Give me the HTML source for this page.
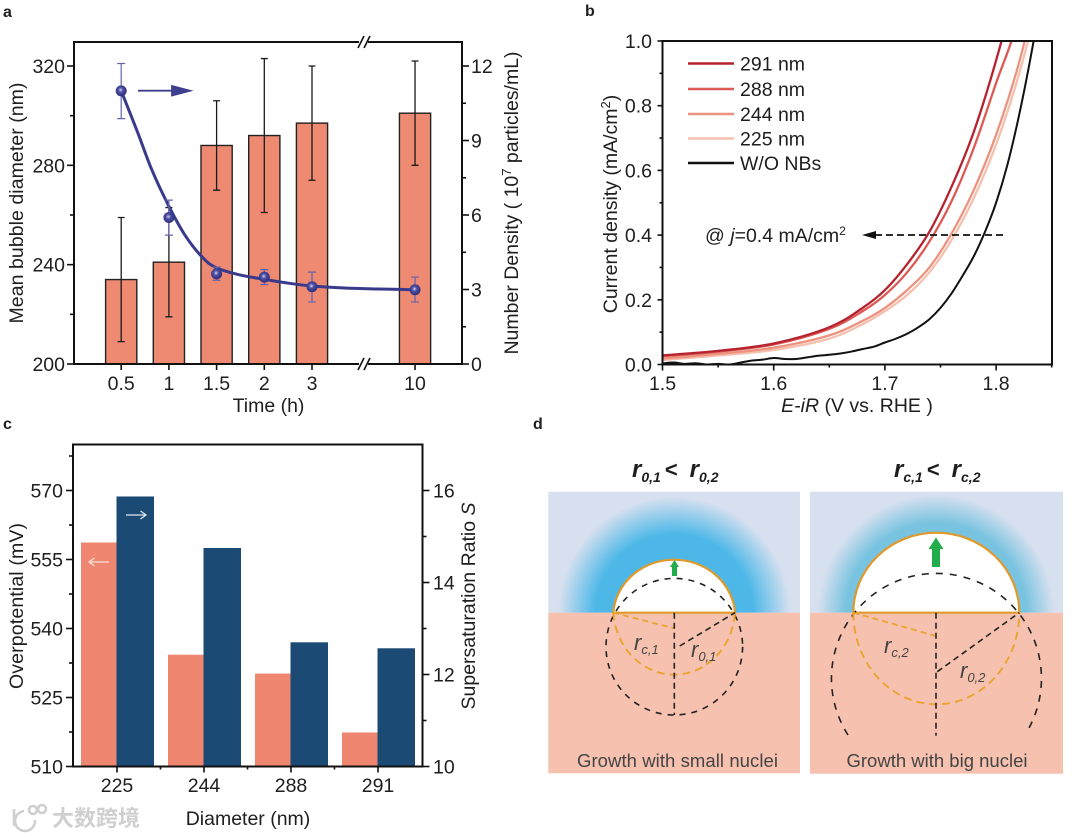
<!DOCTYPE html>
<html lang="en">
<head>
<meta charset="utf-8">
<title>Nanobubble figure</title>
<style>
html,body{margin:0;padding:0;background:#fff;width:1080px;height:837px;overflow:hidden}
svg{display:block;filter:blur(0.35px);font-family:"Liberation Sans","Noto Sans CJK SC",sans-serif}
text{fill:#1e1e1e}
</style>
</head>
<body>
<svg id="fig" xmlns="http://www.w3.org/2000/svg" width="1080" height="837" viewBox="0 0 1080 837">
<defs>
<radialGradient id="glow1" gradientUnits="userSpaceOnUse" cx="674.3" cy="612.7" r="116">
<stop offset="0" stop-color="#4db8e8"/><stop offset="0.68" stop-color="#4db8e8"/><stop offset="1" stop-color="#d7e0ef"/>
</radialGradient>
<radialGradient id="glow2" gradientUnits="userSpaceOnUse" cx="936" cy="612.7" r="118">
<stop offset="0" stop-color="#78c3e0"/><stop offset="0.76" stop-color="#78c3e0"/><stop offset="1" stop-color="#d7e0ef"/>
</radialGradient>
<radialGradient id="ball" cx="0.45" cy="0.42" r="0.6">
<stop offset="0" stop-color="#d5d5f0"/><stop offset="0.35" stop-color="#5050a4"/><stop offset="1" stop-color="#2a2a78"/>
</radialGradient>
<clipPath id="clipB"><rect x="662.5" y="41" width="389.5" height="323.5"/></clipPath>
</defs>

<g font-weight="bold" font-size="16">
<text x="3" y="17">a</text>
<text x="585" y="16">b</text>
<text x="3" y="429">c</text>
<text x="533" y="429">d</text>
</g>

<g id="panelA"></g>
<g id="panelB"></g>
<g id="panelC"></g>

<g id="panelD">
<g>
<rect x="548.3" y="491.7" width="251.7" height="121" fill="#d7e0ef"/>
<path d="M558.3 612.7A116 116 0 0 1 790.3 612.7Z" fill="url(#glow1)"/>
<rect x="548.3" y="612.7" width="251.7" height="160.6" fill="#f6c1ae"/>
<path d="M613.3 612.7A61 57 0 0 1 735 612.7Z" fill="#fff" stroke="#e09a2c" stroke-width="2.2"/>
<circle cx="674.3" cy="646.7" r="68.3" fill="none" stroke="#222" stroke-width="1.6" stroke-dasharray="6 6"/>
<path d="M613.3 612.7A61 66.6 0 0 0 735 612.7" fill="none" stroke="#eba42f" stroke-width="1.9" stroke-dasharray="8 5"/>
<path d="M613.3 612.7L674.3 628.3" fill="none" stroke="#eba42f" stroke-width="1.8" stroke-dasharray="6 4"/>
<path d="M674.3 612.7V715" fill="none" stroke="#222" stroke-width="1.6" stroke-dasharray="6 4"/>
<path d="M679.7 646L735 612.7" fill="none" stroke="#222" stroke-width="1.6" stroke-dasharray="6 4"/>
<path d="M672 576V567H670L674.5 560L679 567H677V576Z" fill="#22ac4b"/>
<text x="634" y="650" font-size="22" font-style="italic" style="fill:#444">r<tspan font-size="13" dy="4">c,1</tspan></text>
<text x="691" y="657" font-size="22" font-style="italic" style="fill:#444">r<tspan font-size="13" dy="4">0,1</tspan></text>
<text x="677.5" y="767" font-size="18.5" text-anchor="middle" textLength="201" style="fill:#444">Growth with small nuclei</text>
<text x="632" y="477" font-size="24" font-weight="bold" font-style="italic">r<tspan font-size="14" dy="5">0,1</tspan><tspan dy="-5" font-style="normal" dx="4" font-size="22">&lt;</tspan><tspan dx="12">r</tspan><tspan font-size="14" dy="5">0,2</tspan></text>
</g>
<g>
<rect x="810" y="491.7" width="253" height="121" fill="#d7e0ef"/>
<path d="M818 612.7A118 118 0 0 1 1054 612.7Z" fill="url(#glow2)"/>
<rect x="810" y="612.7" width="253" height="161" fill="#f6c1ae"/>
<path d="M853.3 612.7A83 80 0 0 1 1019.3 612.7Z" fill="#fff" stroke="#e09a2c" stroke-width="2.2"/>
<path d="M848 735A105 105 0 1 1 1029 728" fill="none" stroke="#222" stroke-width="1.6" stroke-dasharray="7 7"/>
<path d="M853.3 612.7A83 91.6 0 0 0 1019.3 612.7" fill="none" stroke="#eba42f" stroke-width="1.9" stroke-dasharray="8 5"/>
<path d="M853.3 612.7L936 636" fill="none" stroke="#eba42f" stroke-width="1.8" stroke-dasharray="6 4"/>
<path d="M936 612.7V735.7" fill="none" stroke="#222" stroke-width="1.6" stroke-dasharray="6 4"/>
<path d="M937.3 671.7L1019.3 612.7" fill="none" stroke="#222" stroke-width="1.6" stroke-dasharray="6 4"/>
<path d="M932 567V549H928.5L936 537.5L943.5 549H940V567Z" fill="#22ac4b"/>
<text x="884" y="653" font-size="22" font-style="italic" style="fill:#444">r<tspan font-size="13" dy="4">c,2</tspan></text>
<text x="960" y="678" font-size="22" font-style="italic" style="fill:#444">r<tspan font-size="13" dy="4">0,2</tspan></text>
<text x="937" y="767" font-size="18.5" text-anchor="middle" textLength="181" style="fill:#444">Growth with big nuclei</text>
<text x="894" y="477" font-size="24" font-weight="bold" font-style="italic">r<tspan font-size="14" dy="5">c,1</tspan><tspan dy="-5" font-style="normal" dx="4" font-size="22">&lt;</tspan><tspan dx="12">r</tspan><tspan font-size="14" dy="5">c,2</tspan></text>
</g>
</g>

<g>
<g fill="none" stroke="#cfcfcf" stroke-width="2.6">
<path d="M14 809V826"/>
<path d="M35 820A10 10 0 1 1 24 811"/>
<circle cx="33" cy="810" r="4"/>
<circle cx="42" cy="809" r="4"/>
</g>
<text x="52" y="826" font-size="22" font-weight="bold" style="fill:#cfcfcf;font-family:'Liberation Sans','Noto Sans CJK SC',sans-serif">大数跨境</text>
</g>
</svg>

<script>
/* ---------- panel a data ---------- */
const timeLabels = ['0.5', '1', '1.5', '2', '3', '10'];
const timeSlots = [0, 1, 2, 3, 4, 6.16];
const bubbleDiameter = [234, 241, 288, 292, 297, 301];
const bubbleErrHigh = [259, 263, 306, 323, 320, 322];
const bubbleErrLow = [209, 219, 270, 261, 274, 280];
const density = [11.0, 5.9, 3.63, 3.5, 3.11, 2.99];
const densityErrHigh = [12.1, 6.6, 3.9, 3.8, 3.7, 3.5];
const densityErrLow = [9.88, 5.19, 3.37, 3.2, 2.5, 2.5];
const fitSlots = [0, 0.35, 0.64, 1, 1.35, 1.71, 2, 2.5, 3, 3.45, 4, 4.68, 5.4, 6.16];
const fitDensity = [11.0, 9.3, 7.83, 6.35, 5.15, 4.28, 3.87, 3.58, 3.41, 3.27, 3.14, 3.06, 3.02, 2.99];
const diameterTicks = [200, 240, 280, 320];
const diameterMinor = [220, 260, 300];
const densityTicks = [0, 3, 6, 9, 12];
const densityMinor = [1.5, 4.5, 7.5, 10.5];

/* ---------- panel b data ---------- */
const potentials = [1.50, 1.55, 1.60, 1.65, 1.68, 1.70, 1.72, 1.74, 1.76, 1.78, 1.80, 1.82, 1.84];
const current291 = [0.028, 0.042, 0.065, 0.115, 0.175, 0.23, 0.31, 0.41, 0.55, 0.72, 0.94, 1.2, 1.5];
const current288 = [0.025, 0.04, 0.062, 0.11, 0.165, 0.215, 0.285, 0.38, 0.505, 0.67, 0.87, 1.07, 1.4];
const current244 = [0.018, 0.033, 0.052, 0.09, 0.135, 0.175, 0.23, 0.30, 0.405, 0.54, 0.71, 0.925, 1.2];
const current225 = [0.014, 0.028, 0.045, 0.08, 0.125, 0.165, 0.215, 0.285, 0.385, 0.515, 0.68, 0.89, 1.15];
const blankPotentials = [1.5, 1.51, 1.52, 1.53, 1.54, 1.55, 1.56, 1.57, 1.58, 1.59, 1.6, 1.61, 1.62, 1.63, 1.64, 1.65, 1.66, 1.67, 1.68, 1.69, 1.7, 1.71, 1.72, 1.73, 1.74, 1.75, 1.76, 1.77, 1.78, 1.79, 1.8, 1.81, 1.82, 1.83, 1.84];
const currentBlank = [0.003, 0.006, 0.002, 0.004, 0.0, 0.002, 0.0, 0.006, 0.012, 0.015, 0.02, 0.017, 0.017, 0.022, 0.027, 0.03, 0.034, 0.04, 0.048, 0.055, 0.068, 0.08, 0.095, 0.115, 0.14, 0.175, 0.22, 0.275, 0.335, 0.41, 0.5, 0.615, 0.76, 0.93, 1.12];
const seriesNames = ['291 nm', '288 nm', '244 nm', '225 nm', 'W/O NBs'];
const seriesColors = ['#b5232f', '#dc5a55', '#ee9280', '#f5c0ae', '#111111'];
const potentialTicks = [1.5, 1.6, 1.7, 1.8];
const potentialMinor = [1.55, 1.65, 1.75, 1.85];
const currentTicks = [0, 0.2, 0.4, 0.6, 0.8, 1.0];
const currentMinor = [0.1, 0.3, 0.5, 0.7, 0.9];

/* ---------- panel c data ---------- */
const diameters = ['225', '244', '288', '291'];
const overpotential = [558.7, 534.3, 530.2, 517.4];
const supersaturation = [15.87, 14.75, 12.7, 12.57];
const overTicks = [510, 525, 540, 555, 570];
const overMinor = [517.5, 532.5, 547.5, 562.5, 577.5];
const superTicks = [10, 12, 14, 16];
const superMinor = [11, 13, 15];

const NS = 'http://www.w3.org/2000/svg';
function add(parent, tag, attrs, txt) {
  const el = document.createElementNS(NS, tag);
  for (const k in attrs) el.setAttribute(k, attrs[k]);
  if (txt !== undefined) el.textContent = txt;
  parent.appendChild(el);
  return el;
}
function smooth(pts) {
  let d = 'M' + pts[0][0] + ' ' + pts[0][1];
  for (let i = 0; i < pts.length - 1; i++) {
    const p0 = pts[Math.max(0, i - 1)], p1 = pts[i], p2 = pts[i + 1], p3 = pts[Math.min(pts.length - 1, i + 2)];
    d += 'C' + (p1[0] + (p2[0] - p0[0]) / 6) + ' ' + (p1[1] + (p2[1] - p0[1]) / 6) + ' ' +
      (p2[0] - (p3[0] - p1[0]) / 6) + ' ' + (p2[1] - (p3[1] - p1[1]) / 6) + ' ' + p2[0] + ' ' + p2[1];
  }
  return d;
}
function tickY(g, x, y, len) {
  const el = add(g, 'line', {x1: x, x2: x + len, y1: y, y2: y, stroke: '#111', 'stroke-width': 1.6});
  
  
}
function tickX(g, x, y, len) {
  const el = add(g, 'line', {x1: x, x2: x, y1: y, y2: y + len, stroke: '#111', 'stroke-width': 1.6});
  
  
}
function label(g, x, y, anchor, s) {
  const el = add(g, 'text', {x: x, y: y, 'text-anchor': anchor, 'font-size': 19.5}, s);
  
  
}

/* ---------- panel a ---------- */
(function () {
  const g = document.getElementById('panelA');
  const L = 74, R = 462, T = 42, B = 364;
  const xA = s => 121.2 + 47.7 * s;
  const yD = v => B - (v - 200) * (B - 66) / 120;
  const yN = v => B - v * (B - 66) / 12;
  bubbleDiameter.forEach((v, i) => {
    const bar = add(g, 'rect', {x: xA(timeSlots[i]) - 15.6, y: yD(v), width: 31.2, height: B - yD(v), fill: '#ee8972', stroke: '#222', 'stroke-width': 1.4});
    
    
  });
  bubbleDiameter.forEach((v, i) => {
    const x = xA(timeSlots[i]);
    const err = add(g, 'path', {d: 'M' + (x - 3.5) + ' ' + yD(bubbleErrHigh[i]) + 'H' + (x + 3.5) + 'M' + x + ' ' + yD(bubbleErrHigh[i]) + 'V' + yD(bubbleErrLow[i]) + 'M' + (x - 3.5) + ' ' + yD(bubbleErrLow[i]) + 'H' + (x + 3.5), fill: 'none', stroke: '#1a1a1a', 'stroke-width': 1.3});
    
    
  });
  const fit = add(g, 'path', {d: smooth(fitSlots.map((s, i) => [xA(s), yN(fitDensity[i])])), fill: 'none', stroke: '#3a3a8c', 'stroke-width': 3});
  
  
  density.forEach((v, i) => {
    const x = xA(timeSlots[i]);
    const err = add(g, 'path', {d: 'M' + (x - 4) + ' ' + yN(densityErrHigh[i]) + 'H' + (x + 4) + 'M' + x + ' ' + yN(densityErrHigh[i]) + 'V' + yN(densityErrLow[i]) + 'M' + (x - 4) + ' ' + yN(densityErrLow[i]) + 'H' + (x + 4), fill: 'none', stroke: '#6464ac', 'stroke-width': 1.2});
    
    
    const pt = add(g, 'circle', {cx: x, cy: yN(v), r: 5.5, fill: 'url(#ball)'});
    
    
  });
  const frame = add(g, 'rect', {x: L, y: T, width: R - L, height: B - T, fill: 'none', stroke: '#111', 'stroke-width': 2});
  
  
  diameterTicks.forEach(v => { tickY(g, L, yD(v), -7); label(g, 65, yD(v) + 7, 'end', String(v)); });
  diameterMinor.forEach(v => tickY(g, L, yD(v), -4));
  densityTicks.forEach(v => { tickY(g, R, yN(v), 7); label(g, 471, yN(v) + 7, 'start', String(v)); });
  densityMinor.forEach(v => tickY(g, R, yN(v), 4));
  timeLabels.forEach((s, i) => { tickX(g, xA(timeSlots[i]), B, 6); label(g, xA(timeSlots[i]), 390, 'middle', s); });
  [T, B].forEach(y => {
    const gap = add(g, 'rect', {x: 359, y: y - 3, width: 9, height: 6, fill: '#fff'});
    
    
    const br = add(g, 'path', {d: 'M358 ' + (y + 6) + 'L364 ' + (y - 6) + 'M364 ' + (y + 6) + 'L370 ' + (y - 6), fill: 'none', stroke: '#111', 'stroke-width': 1.6});
    
    
  });
  const arrow = add(g, 'path', {d: 'M138 90.7H172M172 86L190 90.7L172 95.4Z', fill: '#3f3f8f', stroke: '#3f3f8f', 'stroke-width': 1.8});
  
  
  const yt = add(g, 'text', {transform: 'translate(23 203) rotate(-90)', 'text-anchor': 'middle', 'font-size': 19.5, textLength: 241}, 'Mean bubble diameter (nm)');
  
  
  const rt = add(g, 'text', {transform: 'translate(518 203) rotate(-90)', 'text-anchor': 'middle', 'font-size': 19.5});
  
  
  add(rt, 'tspan', {}, 'Number Density ( 10');
  add(rt, 'tspan', {'font-size': 13, dy: -7}, '7');
  add(rt, 'tspan', {dy: 7}, ' particles/mL)');
  const xt = add(g, 'text', {x: 268.5, y: 412, 'text-anchor': 'middle', 'font-size': 19.5}, 'Time (h)');
  
  
})();

/* ---------- panel b ---------- */
(function () {
  const g = document.getElementById('panelB');
  const L = 662.5, R = 1052, T = 41, B = 364.5;
  const xV = v => L + (v - 1.5) * 1112;
  const yJ = v => B - v * (B - T);
  const curves = [current291, current288, current244, current225];
  const clipGroup = add(g, 'g', {'clip-path': 'url(#clipB)'});
  
  
  [3, 2, 1, 0].forEach(i => {
    const c = add(clipGroup, 'path', {d: smooth(potentials.map((p, k) => [xV(p), yJ(curves[i][k])])), fill: 'none', stroke: seriesColors[i], 'stroke-width': 2.3});
    
    
  });
  const blank = add(clipGroup, 'path', {d: smooth(blankPotentials.map((p, k) => [xV(p), yJ(currentBlank[k])])), fill: 'none', stroke: seriesColors[4], 'stroke-width': 2});
  
  
  const frame = add(g, 'rect', {x: L, y: T, width: R - L, height: B - T, fill: 'none', stroke: '#111', 'stroke-width': 2});
  
  
  currentTicks.forEach(v => { tickY(g, L, yJ(v), -5); label(g, 652, yJ(v) + 7, 'end', v.toFixed(1)); });
  currentMinor.forEach(v => tickY(g, L, yJ(v), -3));
  potentialTicks.forEach(v => { tickX(g, xV(v), B, 6); label(g, xV(v), 390, 'middle', v.toFixed(1)); });
  potentialMinor.forEach(v => tickX(g, xV(v), B, 3));
  seriesNames.forEach((s, i) => {
    const y = [63.5, 89, 114, 138.5, 163][i];
    const line = add(g, 'line', {x1: 688, x2: 734, y1: y, y2: y, stroke: seriesColors[i], 'stroke-width': 2.4});
    
    
    const t = add(g, 'text', {x: 740, y: y + 7, 'font-size': 19.5}, s);
    
    
  });
  const note = add(g, 'text', {x: 705, y: 242, 'font-size': 19.5});
  
  
  add(note, 'tspan', {}, '@ ');
  add(note, 'tspan', {'font-style': 'italic'}, 'j');
  add(note, 'tspan', {}, '=0.4 mA/cm');
  add(note, 'tspan', {'font-size': 12, dy: -7}, '2');
  const arrowLine = add(g, 'path', {d: 'M1003 235H876', fill: 'none', stroke: '#111', 'stroke-width': 1.7, 'stroke-dasharray': '7 4'});
  
  
  const head = add(g, 'path', {d: 'M862 235L876 231V239Z', fill: '#111'});
  
  
  const yt = add(g, 'text', {transform: 'translate(617 204) rotate(-90)', 'text-anchor': 'middle', 'font-size': 19.5});
  
  
  add(yt, 'tspan', {}, 'Current density (mA/cm');
  add(yt, 'tspan', {'font-size': 13, dy: -7}, '2');
  add(yt, 'tspan', {dy: 7}, ')');
  const xt = add(g, 'text', {x: 857, y: 412, 'text-anchor': 'middle', 'font-size': 19.5});
  
  
  add(xt, 'tspan', {'font-style': 'italic'}, 'E-iR');
  add(xt, 'tspan', {}, ' (V vs. RHE )');
})();

/* ---------- panel c ---------- */
(function () {
  const g = document.getElementById('panelC');
  const L = 73, R = 422.5, T = 444.5, B = 766.5;
  const yO = v => B - (v - 510) * (B - T) / 70;
  const yS = v => B - (v - 10) * (B - T) / 7;
  const xG = i => 117 + i * 87;
  diameters.forEach((s, i) => {
    const a = add(g, 'rect', {x: xG(i) - 36, y: yO(overpotential[i]), width: 35.5, height: B - yO(overpotential[i]), fill: '#ee8670'});
    
    
    const b = add(g, 'rect', {x: xG(i) - 0.5, y: yS(supersaturation[i]), width: 37.5, height: B - yS(supersaturation[i]), fill: '#1b4a74'});
    
    
  });
  const frame = add(g, 'rect', {x: L, y: T, width: R - L, height: B - T, fill: 'none', stroke: '#111', 'stroke-width': 2});
  
  
  overTicks.forEach(v => { tickY(g, L, yO(v), -7); label(g, 63, yO(v) + 7, 'end', String(v)); });
  overMinor.forEach(v => tickY(g, L, yO(v), -4));
  superTicks.forEach(v => { tickY(g, R, yS(v), 7); label(g, 433, yS(v) + 7, 'start', String(v)); });
  superMinor.forEach(v => tickY(g, R, yS(v), 4));
  diameters.forEach((s, i) => { tickX(g, xG(i), B, 6); label(g, xG(i), 792, 'middle', s); });
  [0.5, 1.5, 2.5].forEach(k => tickX(g, xG(k), B, 3));
  const ar = add(g, 'path', {d: 'M126 515H146M140.5 511L146 515L140.5 519', fill: 'none', stroke: '#dfe6f0', 'stroke-width': 1.3});
  
  
  const al = add(g, 'path', {d: 'M109 562H89M94.5 558L89 562L94.5 566', fill: 'none', stroke: '#fbdfd3', 'stroke-width': 1.3});
  
  
  const yt = add(g, 'text', {transform: 'translate(23 606) rotate(-90)', 'text-anchor': 'middle', 'font-size': 19.5, textLength: 166}, 'Overpotential (mV)');
  
  
  const rt = add(g, 'text', {transform: 'translate(475 606) rotate(-90)', 'text-anchor': 'middle', 'font-size': 19.5});
  
  
  add(rt, 'tspan', {}, 'Supersaturation Ratio ');
  add(rt, 'tspan', {'font-style': 'italic'}, 'S');
  const xt = add(g, 'text', {x: 248, y: 825, 'text-anchor': 'middle', 'font-size': 19.5}, 'Diameter (nm)');
  
  
})();
</script>
</body>
</html>
